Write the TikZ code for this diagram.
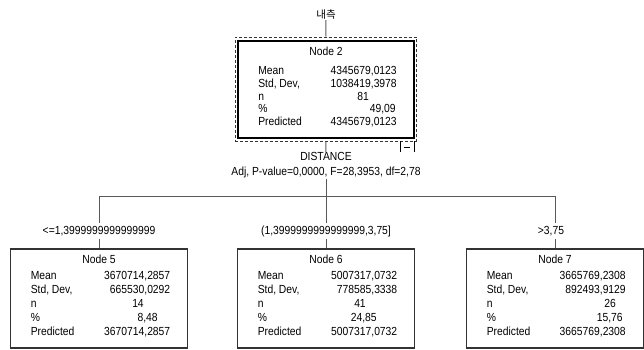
\documentclass[tikz,border=0pt]{standalone}
\usepackage{fontspec}
\setmainfont[FakeStretch=0.88]{Liberation Sans}
\newfontfamily\krfont{Noto Sans CJK KR}
\begin{document}
\begin{tikzpicture}[x=0.75pt,y=-0.75pt,
  txt/.style={inner sep=0pt, font=\fontsize{8.8}{10}\selectfont},
  conn/.style={draw=black!65, line width=0.75pt},
  rootbox/.style={draw=black, line width=1.6pt, minimum width=132pt, minimum height=72.75pt, inner sep=0pt},
  outerbox/.style={draw=black!80, line width=0.75pt, dash pattern=on 2.25pt off 1.5pt, minimum width=136.1pt, minimum height=78pt, inner sep=0pt},
  leafbox/.style={draw=black!80, line width=0.9pt, minimum width=132.75pt, minimum height=74.25pt, inner sep=0pt},
  branch/.style={txt, fill=white, inner sep=2pt}]
\useasboundingbox (0,0) rectangle (644,350);

% root
\node[txt] (top) at (326,15) {\krfont\fontsize{7.9}{9}\selectfont 내측};
\node[outerbox] (n2o) at (325.75,89) {};
\node[rootbox] (n2) at (326,89.5) {};
\coordinate (togl) at (400,141);
\coordinate (togr) at (414,141);
\coordinate (togm) at (407,147);
\draw[line width=0.75pt] (togl) -- ++(0,11);
\draw[line width=0.75pt] (togr) -- ++(0,11);
\draw[line width=0.75pt] ([xshift=-2.6pt]togm) -- ([xshift=2.6pt]togm);
\draw[conn] (top.south) -- (n2o.north);

\node[txt] (n2t) at (326,51) {Node 2};
\foreach \lab [count=\i] in {Mean,{Std, Dev,},n,\%,Predicted}
  \node[txt,anchor=mid west] (n2l\i) at (258,{71+12.75*(\i-1)}) {\lab};
\node[txt,anchor=mid east] (n2v1) at (397,71) {4345679,0123};
\node[txt,anchor=mid east] (n2v2) at (397,83.75) {1038419,3978};
\node[txt,anchor=mid] (n2v3) at (363,96.5) {81};
\node[txt,anchor=mid east] (n2v4) at (396,109.25) {49,09};
\node[txt,anchor=mid east] (n2v5) at (397,122) {4345679,0123};

% split
\node[txt, align=center, font=\fontsize{8.8}{11.25}\selectfont] (split) at (326,165.5) {DISTANCE\\Adj, P-value=0,0000, F=28,3953, df=2,78};
\coordinate (bus) at (326,196);
\coordinate (bus5) at (99,196);
\coordinate (bus7) at (555,196);
\draw[conn] (n2o.south) -- (split.north);
\draw[conn] (split.south) -- (bus);
\draw[conn] (bus5) -- (bus7);

% leaves
\node[leafbox] (n5) at (99,298.5) {};
\node[leafbox] (n6) at (326,298.5) {};
\node[leafbox] (n7) at (555,298.5) {};

\node[branch] (b5) at (99,231) {<=1,3999999999999999};
\node[branch] (b6) at (326,231) {(1,3999999999999999,3,75]};
\node[branch] (b7) at (551,231) {>3,75};

\draw[conn] (bus5) -- (b5.north);
\draw[conn] (b5.south) -- (n5.north);
\draw[conn] (bus) -- (b6.north);
\draw[conn] (b6.south) -- (n6.north);
\draw[conn] (bus7) -- (bus7 |- b7.north);
\draw[conn] (bus7 |- b7.south) -- (n7.north);

% node 5
\node[txt] (n5t) at (99,259) {Node 5};
\foreach \lab [count=\i] in {Mean,{Std, Dev,},n,\%,Predicted}
  \node[txt,anchor=mid west] (n5l\i) at (30.5,{276+14*(\i-1)}) {\lab};
\node[txt,anchor=mid east] (n5v1) at (170.5,276) {3670714,2857};
\node[txt,anchor=mid east] (n5v2) at (170.5,290) {665530,0292};
\node[txt,anchor=mid] (n5v3) at (138,304) {14};
\node[txt,anchor=mid east] (n5v4) at (158,318) {8,48};
\node[txt,anchor=mid east] (n5v5) at (170.5,332) {3670714,2857};

% node 6
\node[txt] (n6t) at (326,259) {Node 6};
\foreach \lab [count=\i] in {Mean,{Std, Dev,},n,\%,Predicted}
  \node[txt,anchor=mid west] (n6l\i) at (257.5,{276+14*(\i-1)}) {\lab};
\node[txt,anchor=mid east] (n6v1) at (397.5,276) {5007317,0732};
\node[txt,anchor=mid east] (n6v2) at (397.5,290) {778585,3338};
\node[txt,anchor=mid] (n6v3) at (360,304) {41};
\node[txt,anchor=mid east] (n6v4) at (377,318) {24,85};
\node[txt,anchor=mid east] (n6v5) at (397.5,332) {5007317,0732};

% node 7
\node[txt] (n7t) at (555,259) {Node 7};
\foreach \lab [count=\i] in {Mean,{Std, Dev,},n,\%,Predicted}
  \node[txt,anchor=mid west] (n7l\i) at (486.5,{276+14*(\i-1)}) {\lab};
\node[txt,anchor=mid east] (n7v1) at (626,276) {3665769,2308};
\node[txt,anchor=mid east] (n7v2) at (626,290) {892493,9129};
\node[txt,anchor=mid] (n7v3) at (610,304) {26};
\node[txt,anchor=mid east] (n7v4) at (623,318) {15,76};
\node[txt,anchor=mid east] (n7v5) at (626,332) {3665769,2308};
\end{tikzpicture}
\end{document}
